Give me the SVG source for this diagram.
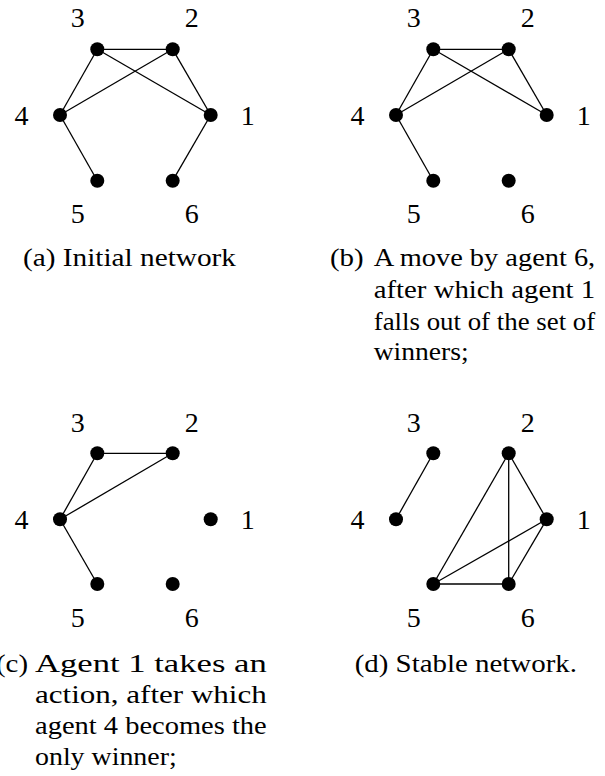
<svg xmlns="http://www.w3.org/2000/svg" width="605" height="776" viewBox="0 0 605 776">
<style>
.e{stroke:#000;stroke-width:1.3;fill:none}
.n{fill:#000}
.t{font-family:"Liberation Serif","Times New Roman",Times,serif;font-size:25px;fill:#000}
.l{font-family:"Liberation Serif","Times New Roman",Times,serif;font-size:28px;fill:#000;text-anchor:middle}
</style>
<rect width="605" height="776" fill="#fff"/>
<!-- Panel a -->
<g id="panel-a">
<g id="a-edges">
<line class="e" x1="97.3" y1="49.3" x2="172.7" y2="49.3"/>
<line class="e" x1="97.3" y1="49.3" x2="210.7" y2="115"/>
<line class="e" x1="172.7" y1="49.3" x2="60" y2="115"/>
<line class="e" x1="97.3" y1="49.3" x2="60" y2="115"/>
<line class="e" x1="172.7" y1="49.3" x2="210.7" y2="115"/>
<line class="e" x1="60" y1="115" x2="97.3" y2="180.7"/>
<line class="e" x1="210.7" y1="115" x2="172.7" y2="180.7"/>
</g>
<g id="a-n1"><circle class="n" cx="210.7" cy="115" r="7"/><text class="l" x="247.7" y="125">1</text></g>
<g id="a-n2"><circle class="n" cx="172.7" cy="49.3" r="7"/><text class="l" x="191.7" y="27">2</text></g>
<g id="a-n3"><circle class="n" cx="97.3" cy="49.3" r="7"/><text class="l" x="77.7" y="27">3</text></g>
<g id="a-n4"><circle class="n" cx="60" cy="115" r="7"/><text class="l" x="21.5" y="125">4</text></g>
<g id="a-n5"><circle class="n" cx="97.3" cy="180.7" r="7"/><text class="l" x="77.7" y="223">5</text></g>
<g id="a-n6"><circle class="n" cx="172.7" cy="180.7" r="7"/><text class="l" x="191.7" y="223">6</text></g>
<text class="t" x="23" y="266" textLength="213" lengthAdjust="spacingAndGlyphs">(a) Initial network</text>
</g>
<!-- Panel b -->
<g id="panel-b">
<g id="b-edges">
<line class="e" x1="433.3" y1="49.3" x2="508.7" y2="49.3"/>
<line class="e" x1="433.3" y1="49.3" x2="546.7" y2="115"/>
<line class="e" x1="508.7" y1="49.3" x2="396" y2="115"/>
<line class="e" x1="433.3" y1="49.3" x2="396" y2="115"/>
<line class="e" x1="508.7" y1="49.3" x2="546.7" y2="115"/>
<line class="e" x1="396" y1="115" x2="433.3" y2="180.7"/>
</g>
<g id="b-n1"><circle class="n" cx="546.7" cy="115" r="7"/><text class="l" x="583.7" y="125">1</text></g>
<g id="b-n2"><circle class="n" cx="508.7" cy="49.3" r="7"/><text class="l" x="527.7" y="27">2</text></g>
<g id="b-n3"><circle class="n" cx="433.3" cy="49.3" r="7"/><text class="l" x="413.7" y="27">3</text></g>
<g id="b-n4"><circle class="n" cx="396" cy="115" r="7"/><text class="l" x="357.5" y="125">4</text></g>
<g id="b-n5"><circle class="n" cx="433.3" cy="180.7" r="7"/><text class="l" x="413.7" y="223">5</text></g>
<g id="b-n6"><circle class="n" cx="508.7" cy="180.7" r="7"/><text class="l" x="527.7" y="223">6</text></g>
<text class="t" x="330" y="266" textLength="33.7" lengthAdjust="spacingAndGlyphs">(b)</text>
<text class="t" x="373.7" y="266" textLength="221.5" lengthAdjust="spacingAndGlyphs">A move by agent 6,</text>
<text class="t" x="373.7" y="298" textLength="221.5" lengthAdjust="spacingAndGlyphs">after which agent 1</text>
<text class="t" x="373.7" y="329.5" textLength="221.5" lengthAdjust="spacingAndGlyphs">falls out of the set of</text>
<text class="t" x="373.7" y="360" textLength="95" lengthAdjust="spacingAndGlyphs">winners;</text>
</g>
<!-- Panel c -->
<g id="panel-c">
<g id="c-edges">
<line class="e" x1="97.3" y1="453.3" x2="172.7" y2="453.3"/>
<line class="e" x1="172.7" y1="453.3" x2="60" y2="519.3"/>
<line class="e" x1="97.3" y1="453.3" x2="60" y2="519.3"/>
<line class="e" x1="60" y1="519.3" x2="97.3" y2="584"/>
</g>
<g id="c-n1"><circle class="n" cx="210.7" cy="519.3" r="7"/><text class="l" x="247.7" y="529">1</text></g>
<g id="c-n2"><circle class="n" cx="172.7" cy="453.3" r="7"/><text class="l" x="191.7" y="432">2</text></g>
<g id="c-n3"><circle class="n" cx="97.3" cy="453.3" r="7"/><text class="l" x="77.7" y="432">3</text></g>
<g id="c-n4"><circle class="n" cx="60" cy="519.3" r="7"/><text class="l" x="21.5" y="529">4</text></g>
<g id="c-n5"><circle class="n" cx="97.3" cy="584" r="7"/><text class="l" x="77.7" y="627">5</text></g>
<g id="c-n6"><circle class="n" cx="172.7" cy="584" r="7"/><text class="l" x="191.7" y="627">6</text></g>
<text class="t" x="-4" y="671.7" textLength="32" lengthAdjust="spacingAndGlyphs">(c)</text>
<text class="t" x="35" y="671.7" textLength="231.7" lengthAdjust="spacingAndGlyphs">Agent 1 takes an</text>
<text class="t" x="35" y="702.7" textLength="231.7" lengthAdjust="spacingAndGlyphs">action, after which</text>
<text class="t" x="35" y="734" textLength="231.7" lengthAdjust="spacingAndGlyphs">agent 4 becomes the</text>
<text class="t" x="35" y="765" textLength="141.7" lengthAdjust="spacingAndGlyphs">only winner;</text>
</g>
<!-- Panel d -->
<g id="panel-d">
<g id="d-edges">
<line class="e" x1="433.3" y1="453.3" x2="396" y2="519.3"/>
<line class="e" x1="508.7" y1="453.3" x2="433.3" y2="584"/>
<line class="e" x1="508.7" y1="453.3" x2="508.7" y2="584"/>
<line class="e" x1="508.7" y1="453.3" x2="546.7" y2="519.3"/>
<line class="e" x1="546.7" y1="519.3" x2="433.3" y2="584"/>
<line class="e" x1="546.7" y1="519.3" x2="508.7" y2="584"/>
<line class="e" x1="433.3" y1="584" x2="508.7" y2="584"/>
</g>
<g id="d-n1"><circle class="n" cx="546.7" cy="519.3" r="7"/><text class="l" x="583.7" y="529">1</text></g>
<g id="d-n2"><circle class="n" cx="508.7" cy="453.3" r="7"/><text class="l" x="527.7" y="432">2</text></g>
<g id="d-n3"><circle class="n" cx="433.3" cy="453.3" r="7"/><text class="l" x="413.7" y="432">3</text></g>
<g id="d-n4"><circle class="n" cx="396" cy="519.3" r="7"/><text class="l" x="357.5" y="529">4</text></g>
<g id="d-n5"><circle class="n" cx="433.3" cy="584" r="7"/><text class="l" x="413.7" y="627">5</text></g>
<g id="d-n6"><circle class="n" cx="508.7" cy="584" r="7"/><text class="l" x="527.7" y="627">6</text></g>
<text class="t" x="354.7" y="671.7" textLength="222.3" lengthAdjust="spacingAndGlyphs">(d) Stable network.</text>
</g>
</svg>
